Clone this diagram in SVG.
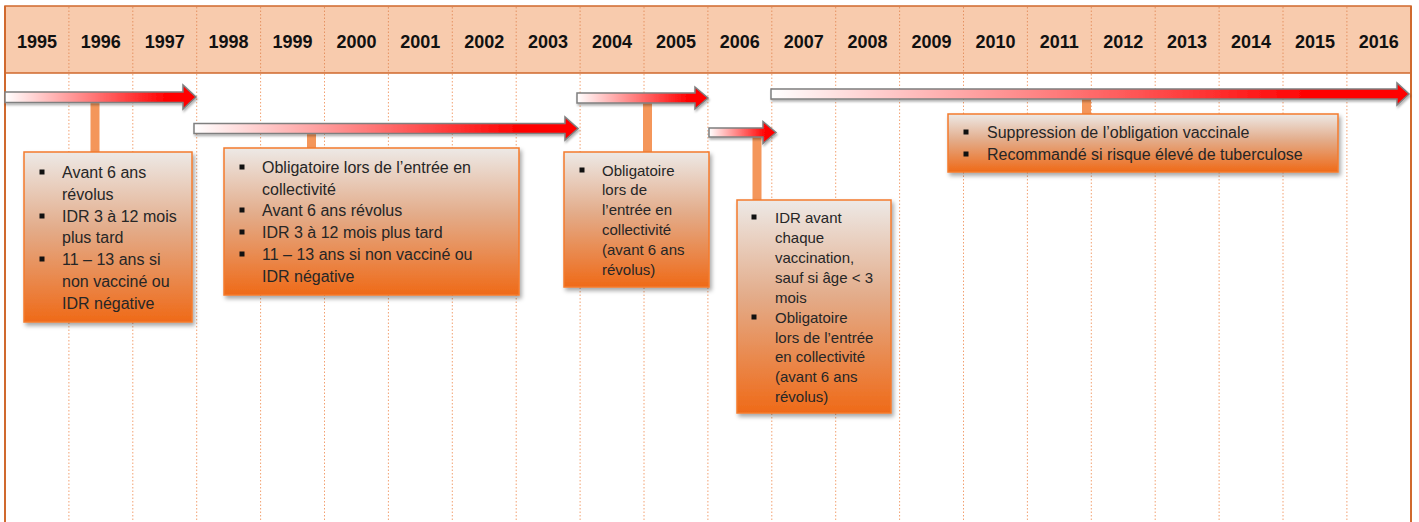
<svg xmlns="http://www.w3.org/2000/svg" width="1419" height="522" viewBox="0 0 1419 522">
<style>
.yr{font-family:"Liberation Sans",Arial,sans-serif;font-weight:bold;font-size:18px;fill:#111;text-anchor:middle}
.t{font-family:"Liberation Sans",Arial,sans-serif;font-size:16px;fill:#262626}
.s{font-family:"Liberation Sans",Arial,sans-serif;font-size:15px;fill:#262626}
.box{fill:url(#bg);stroke:#F47B2C;stroke-width:1.5;filter:url(#sh)}
.arr{fill:url(#ag);stroke:#7F7F7F;stroke-width:1.5;filter:url(#ash)}
.stem{fill:#F4965A}
.gl{stroke:#F2A070;stroke-width:1;stroke-dasharray:1.5 2}
.gh{stroke:#E59262;stroke-width:1;stroke-dasharray:1.5 2}
.bul{fill:#111}
</style>
<defs>
<linearGradient id="bg" x1="0" y1="0" x2="0" y2="1">
<stop offset="0" stop-color="#EDE9E6"/>
<stop offset="0.45" stop-color="#E3AC8A"/>
<stop offset="1" stop-color="#EF6A18"/>
</linearGradient>
<linearGradient id="ag" x1="0" y1="0" x2="1" y2="0">
<stop offset="0" stop-color="#FFFFFF"/>
<stop offset="0.45" stop-color="#FF7A7A"/>
<stop offset="0.85" stop-color="#FF0000"/>
<stop offset="1" stop-color="#FF0000"/>
</linearGradient>
<filter id="sh" x="-10%" y="-10%" width="130%" height="130%">
<feDropShadow dx="2" dy="3" stdDeviation="2" flood-color="#000" flood-opacity="0.35"/>
</filter>
<filter id="ash" x="-5%" y="-30%" width="110%" height="170%">
<feDropShadow dx="1" dy="2" stdDeviation="1.2" flood-color="#000" flood-opacity="0.3"/>
</filter>
</defs>
<rect width="1419" height="522" fill="#fff"/>
<g id="header">
<rect x="5" y="6" width="1406" height="67" fill="#F8CBAD" stroke="#D0692E" stroke-width="1.5"/>
<g class="gh">
<line x1="68.9" y1="7" x2="68.9" y2="72"/><line x1="132.8" y1="7" x2="132.8" y2="72"/><line x1="196.7" y1="7" x2="196.7" y2="72"/><line x1="260.6" y1="7" x2="260.6" y2="72"/><line x1="324.5" y1="7" x2="324.5" y2="72"/><line x1="388.4" y1="7" x2="388.4" y2="72"/><line x1="452.3" y1="7" x2="452.3" y2="72"/><line x1="516.2" y1="7" x2="516.2" y2="72"/><line x1="580.1" y1="7" x2="580.1" y2="72"/><line x1="644" y1="7" x2="644" y2="72"/><line x1="707.9" y1="7" x2="707.9" y2="72"/><line x1="771.8" y1="7" x2="771.8" y2="72"/><line x1="835.7" y1="7" x2="835.7" y2="72"/><line x1="899.6" y1="7" x2="899.6" y2="72"/><line x1="963.5" y1="7" x2="963.5" y2="72"/><line x1="1027.4" y1="7" x2="1027.4" y2="72"/><line x1="1091.3" y1="7" x2="1091.3" y2="72"/><line x1="1155.2" y1="7" x2="1155.2" y2="72"/><line x1="1219.1" y1="7" x2="1219.1" y2="72"/><line x1="1283" y1="7" x2="1283" y2="72"/><line x1="1346.9" y1="7" x2="1346.9" y2="72"/>
</g>
<text class="yr" x="36.9" y="48">1995</text><text class="yr" x="100.8" y="48">1996</text><text class="yr" x="164.7" y="48">1997</text><text class="yr" x="228.6" y="48">1998</text><text class="yr" x="292.5" y="48">1999</text><text class="yr" x="356.4" y="48">2000</text><text class="yr" x="420.3" y="48">2001</text><text class="yr" x="484.2" y="48">2002</text><text class="yr" x="548.1" y="48">2003</text><text class="yr" x="612" y="48">2004</text><text class="yr" x="675.9" y="48">2005</text><text class="yr" x="739.8" y="48">2006</text><text class="yr" x="803.7" y="48">2007</text><text class="yr" x="867.6" y="48">2008</text><text class="yr" x="931.5" y="48">2009</text><text class="yr" x="995.4" y="48">2010</text><text class="yr" x="1059.3" y="48">2011</text><text class="yr" x="1123.2" y="48">2012</text><text class="yr" x="1187.1" y="48">2013</text><text class="yr" x="1251" y="48">2014</text><text class="yr" x="1314.9" y="48">2015</text><text class="yr" x="1378.8" y="48">2016</text>
</g>
<g id="grid" class="gl">
<line x1="68.9" y1="74" x2="68.9" y2="522"/><line x1="132.8" y1="74" x2="132.8" y2="522"/><line x1="196.7" y1="74" x2="196.7" y2="522"/><line x1="260.6" y1="74" x2="260.6" y2="522"/><line x1="324.5" y1="74" x2="324.5" y2="522"/><line x1="388.4" y1="74" x2="388.4" y2="522"/><line x1="452.3" y1="74" x2="452.3" y2="522"/><line x1="516.2" y1="74" x2="516.2" y2="522"/><line x1="580.1" y1="74" x2="580.1" y2="522"/><line x1="644" y1="74" x2="644" y2="522"/><line x1="707.9" y1="74" x2="707.9" y2="522"/><line x1="771.8" y1="74" x2="771.8" y2="522"/><line x1="835.7" y1="74" x2="835.7" y2="522"/><line x1="899.6" y1="74" x2="899.6" y2="522"/><line x1="963.5" y1="74" x2="963.5" y2="522"/><line x1="1027.4" y1="74" x2="1027.4" y2="522"/><line x1="1091.3" y1="74" x2="1091.3" y2="522"/><line x1="1155.2" y1="74" x2="1155.2" y2="522"/><line x1="1219.1" y1="74" x2="1219.1" y2="522"/><line x1="1283" y1="74" x2="1283" y2="522"/><line x1="1346.9" y1="74" x2="1346.9" y2="522"/>
</g>
<g id="frame" stroke="#D0692E" stroke-width="2">
<line x1="5" y1="6" x2="5" y2="522"/>
<line x1="1411" y1="6" x2="1411" y2="522"/>
</g>
<g id="connectors">
<rect class="stem" x="90.5" y="103" width="9" height="49"/>
<rect class="stem" x="307" y="134" width="9" height="14"/>
<rect class="stem" x="643" y="103" width="9" height="49"/>
<rect class="stem" x="752.5" y="137" width="9" height="63"/>
<rect class="stem" x="1082" y="99" width="9" height="15"/>
</g>
<g id="spans">
<path class="arr" d="M5,92 L183,92 L183,85 L196,97 L183,109 L183,102.5 L5,102.5 Z"/>
<path class="arr" d="M194,123.5 L565,123.5 L565,117 L578,128.5 L565,140 L565,133.5 L194,133.5 Z"/>
<path class="arr" d="M577,93 L695,93 L695,87 L708,98 L695,109 L695,103 L577,103 Z"/>
<path class="arr" d="M709,128 L763,128 L763,121.5 L776,132.5 L763,143.5 L763,137 L709,137 Z"/>
<path class="arr" d="M771,89 L1397,89 L1397,83 L1409,94 L1397,105 L1397,99 L771,99 Z"/>
</g>
<g id="box1">
<rect class="box" x="24" y="152" width="168" height="170"/>
<rect class="bul" x="39.5" y="169.5" width="5" height="5"/><rect class="bul" x="39.5" y="213.5" width="5" height="5"/><rect class="bul" x="39.5" y="256.5" width="5" height="5"/>
<text class="t" x="62" y="178">Avant 6 ans</text>
<text class="t" x="62" y="199.8">révolus</text>
<text class="t" x="62" y="221.6">IDR 3 à 12 mois</text>
<text class="t" x="62" y="243.4">plus tard</text>
<text class="t" x="62" y="265.2">11 – 13 ans si</text>
<text class="t" x="62" y="287">non vacciné ou</text>
<text class="t" x="62" y="308.8">IDR négative</text>
</g>
<g id="box2">
<rect class="box" x="224" y="148" width="295" height="147"/>
<rect class="bul" x="239.5" y="164.5" width="5" height="5"/><rect class="bul" x="239.5" y="207.5" width="5" height="5"/><rect class="bul" x="239.5" y="229.5" width="5" height="5"/><rect class="bul" x="239.5" y="251.5" width="5" height="5"/>
<text class="t" x="262" y="173">Obligatoire lors de l’entrée en</text>
<text class="t" x="262" y="194.5">collectivité</text>
<text class="t" x="262" y="216">Avant 6 ans révolus</text>
<text class="t" x="262" y="238">IDR 3 à 12 mois plus tard</text>
<text class="t" x="262" y="260">11 – 13 ans si non vacciné ou</text>
<text class="t" x="262" y="282">IDR négative</text>
</g>
<g id="box3">
<rect class="box" x="564" y="152" width="145" height="135"/>
<rect class="bul" x="579.5" y="167.5" width="5" height="5"/>
<text class="s" x="602" y="175.5">Obligatoire</text>
<text class="s" x="602" y="195">lors de</text>
<text class="s" x="602" y="215">l’entrée en</text>
<text class="s" x="602" y="235">collectivité</text>
<text class="s" x="602" y="255">(avant 6 ans</text>
<text class="s" x="602" y="275">révolus)</text>
</g>
<g id="box4">
<rect class="box" x="737" y="200" width="154" height="213"/>
<rect class="bul" x="751.5" y="214.5" width="5" height="5"/><rect class="bul" x="751.5" y="314.5" width="5" height="5"/>
<text class="s" x="775" y="222.5">IDR avant</text>
<text class="s" x="775" y="242.5">chaque</text>
<text class="s" x="775" y="262.5">vaccination,</text>
<text class="s" x="775" y="282.5">sauf si âge &lt; 3</text>
<text class="s" x="775" y="302.5">mois</text>
<text class="s" x="775" y="322.5">Obligatoire</text>
<text class="s" x="775" y="342.5">lors de l’entrée</text>
<text class="s" x="775" y="361.5">en collectivité</text>
<text class="s" x="775" y="381.5">(avant 6 ans</text>
<text class="s" x="775" y="401.5">révolus)</text>
</g>
<g id="box5">
<rect class="box" x="948" y="114" width="390" height="58"/>
<rect class="bul" x="963.5" y="129.5" width="5" height="5"/><rect class="bul" x="963.5" y="151.5" width="5" height="5"/>
<text class="t" x="987" y="138">Suppression de l’obligation vaccinale</text>
<text class="t" x="987" y="160">Recommandé si risque élevé de tuberculose</text>
</g>
</svg>
